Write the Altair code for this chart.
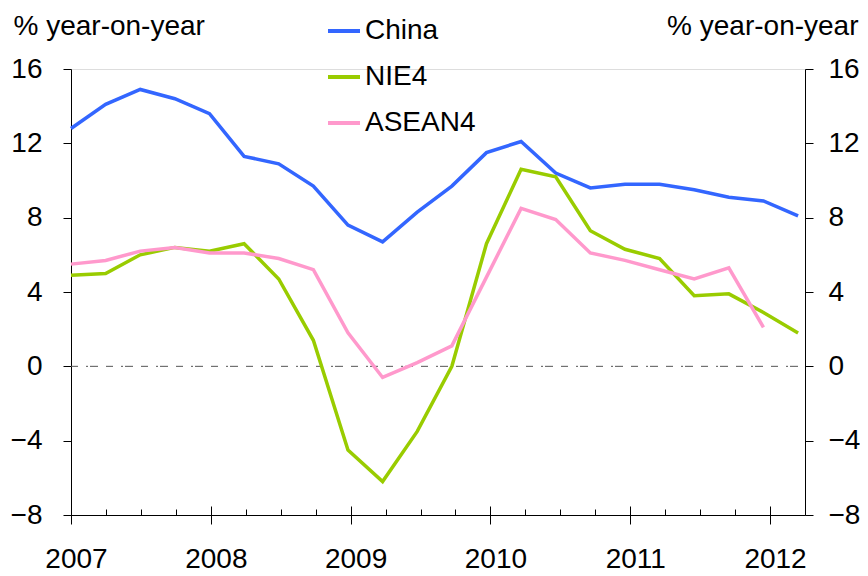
import altair as alt
import pandas as pd

# ---------------- data ----------------
quarters = ["2007Q1", "2007Q2", "2007Q3", "2007Q4",
            "2008Q1", "2008Q2", "2008Q3", "2008Q4",
            "2009Q1", "2009Q2", "2009Q3", "2009Q4",
            "2010Q1", "2010Q2", "2010Q3", "2010Q4",
            "2011Q1", "2011Q2", "2011Q3", "2011Q4",
            "2012Q1", "2012Q2"]
china = [12.8, 14.1, 14.9, 14.4, 13.6, 11.3, 10.9, 9.7,
         7.6, 6.7, 8.3, 9.7, 11.5, 12.1, 10.4, 9.6,
         9.8, 9.8, 9.5, 9.1, 8.9, 8.1]
nie4 = [4.9, 5.0, 6.0, 6.4, 6.2, 6.6, 4.7, 1.4,
        -4.5, -6.2, -3.5, 0.0, 6.6, 10.6, 10.2, 7.3,
        6.3, 5.8, 3.8, 3.9, 2.9, 1.8]
asean4 = [5.5, 5.7, 6.2, 6.4, 6.1, 6.1, 5.8, 5.2,
          1.8, -0.6, 0.2, 1.1, 4.8, 8.5, 7.9, 6.1,
          5.7, 5.2, 4.7, 5.3, 2.1]
series_names = ["China", "NIE4", "ASEAN4"]
series_colors = ["#3366FF", "#99CC00", "#FF99CC"]
years = [2007, 2008, 2009, 2010, 2011, 2012]
y_ticks = [-8, -4, 0, 4, 8, 12, 16]
y_title = "% year-on-year"

rows = []
for name, vals in zip(series_names, [china, nie4, asean4]):
    for i, v in enumerate(vals):
        rows.append({"quarter": quarters[i], "idx": i, "series": name, "value": v})
df = pd.DataFrame(rows)

year_lo = years[0]
year_hi = years[-1] + 0.25
minor = [y + q / 4 for y in years for q in (1, 2, 3) if y + q / 4 < year_hi]
rule_df = pd.DataFrame({"start": [year_lo], "end": [year_hi], "v": [0]})

FONT = "Liberation Sans"
yscale = alt.Scale(domain=[y_ticks[0], y_ticks[-1]], nice=False, zero=False)
xyear = alt.Scale(domain=[year_lo, year_hi], nice=False, zero=False)

common_y = dict(values=y_ticks, tickSize=8, labelFontSize=28, labelFont=FONT,
                grid=False, domainColor="black", tickColor="black",
                labelColor="black", titleFontSize=28, titleFont=FONT,
                titleFontWeight="normal", titleColor="black", titleAngle=0,
                titleBaseline="alphabetic", titleY=-35)

lines = alt.Chart(df).mark_line(strokeWidth=3.5).encode(
    x=alt.X("idx:Q", scale=alt.Scale(domain=[0, 21.2], nice=False, zero=False),
            axis=alt.Axis(orient="bottom", domain=True, domainColor="black",
                          ticks=False, labels=False, grid=False, title=None)),
    y=alt.Y("value:Q", scale=yscale,
            axis=alt.Axis(orient="left", labelPadding=21, title=y_title,
                          titleAlign="left", titleX=-58, **common_y)),
    color=alt.Color("series:N",
                    scale=alt.Scale(domain=series_names, range=series_colors),
                    legend=alt.Legend(orient="none", legendX=255, legendY=-56,
                                      direction="vertical", title=None,
                                      symbolType="stroke", symbolStrokeWidth=4,
                                      symbolSize=1024, labelFontSize=28,
                                      labelFont=FONT, labelOffset=3,
                                      rowPadding=14, padding=0,
                                      labelColor="black")),
    detail="series:N",
)

zero = alt.Chart(rule_df).mark_rule(color="#555555", strokeWidth=1,
                                     strokeDash=[7, 8, 2, 2, 8, 8]).encode(
    x=alt.X("start:Q", scale=xyear,
            axis=alt.Axis(orient="bottom", values=years, offset=-9, tickSize=18,
                          domain=False, labelFontSize=28, labelFont=FONT,
                          labelPadding=21, format="d", labelFlush=False,
                          labelOverlap=False, title=None, grid=False,
                          tickColor="black", labelColor="black", labelOffset=5)),
    x2="end:Q",
    y=alt.Y("v:Q", scale=yscale,
            axis=alt.Axis(orient="right", labelPadding=15, title=y_title,
                          titleAlign="right", titleX=53, **common_y)),
)

minor_ticks = alt.Chart(rule_df).mark_point(opacity=0).encode(
    x=alt.X("start:Q", scale=xyear,
            axis=alt.Axis(orient="bottom", values=minor, offset=-6, tickSize=6,
                          domain=False, labels=False, grid=False, title=None,
                          tickColor="black")),
    y=alt.Y("v:Q", scale=yscale, axis=None),
)

chart = alt.layer(zero, minor_ticks, lines).resolve_scale(
    x="independent"
).resolve_axis(
    x="independent", y="independent"
).properties(
    width=734, height=446,
    autosize=alt.AutoSizeParams(type="none"),
    padding={"left": 63, "top": 61, "right": 55, "bottom": 57},
    background="white",
).configure_view(stroke=None).configure(font=FONT)

chart.save("out.html", embed_options={"renderer": "svg", "actions": False})
